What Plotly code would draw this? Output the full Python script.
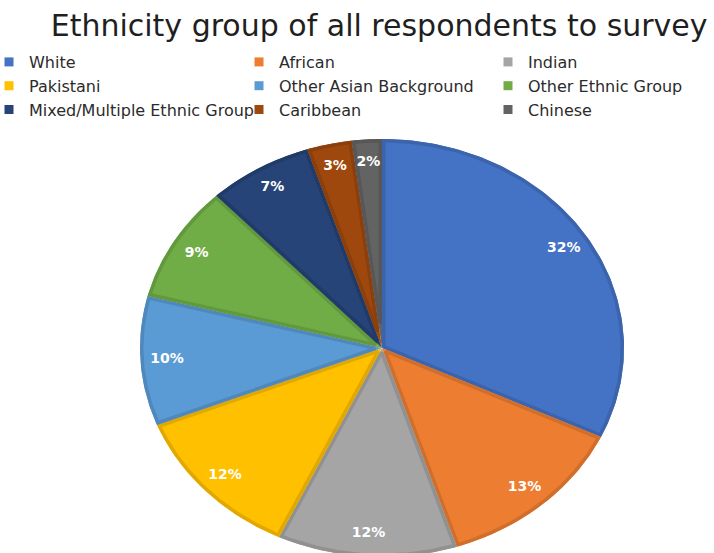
import numpy as np
import plotly.graph_objects as go

# Survey data
groups = [
    "White", "African", "Indian",
    "Pakistani", "Other Asian Background", "Other Ethnic Group",
    "Mixed/Multiple Ethnic Group", "Caribbean", "Chinese",
]
shares = [32, 13, 12, 12, 10, 9, 7, 3, 2]
fill_colors = [
    "#4472C4", "#ED7D31", "#A5A5A5",
    "#FFC000", "#5B9BD5", "#70AD47",
    "#264478", "#9E480E", "#636363",
]
title_text = "Ethnicity group of all respondents to survey"

# Canvas and pie geometry (pixels)
W, H = 714, 553
TOP = 128                  # plot area starts below the legend
CX, CY = 382, 348          # pie centre, measured from left / top of canvas
RX, RY = 242, 209          # horizontal / vertical radius
BORDER = 3.5               # width of each slice's inner outline
LABEL_R = 0.89             # label distance as a fraction of the radius
LEGEND_COLS = 3
LEGEND_TEXT_X = [29, 279, 528]   # left edge of legend text in each column
LEGEND_TOP = 45


def darker(hex_color, k=0.88):
    r, g, b = (int(hex_color[i:i + 2], 16) for i in (1, 3, 5))
    return "#%02x%02x%02x" % (int(r * k), int(g * k), int(b * k))


def unit(v):
    return v / np.hypot(*v)


def ellipse_hit(p, u, a, b):
    """Distance along direction u from p to the ellipse with semi-axes a, b."""
    qa = (u[0] / a) ** 2 + (u[1] / b) ** 2
    qb = 2 * (p[0] * u[0] / a ** 2 + p[1] * u[1] / b ** 2)
    qc = (p[0] / a) ** 2 + (p[1] / b) ** 2 - 1
    return (-qb + np.sqrt(qb * qb - 4 * qa * qc)) / (2 * qa)


def slice_fill(a0, a1, n=120):
    t = np.linspace(a0, a1, n)
    xs = np.concatenate([[0], RX * np.sin(t), [0]])
    ys = np.concatenate([[0], RY * np.cos(t), [0]])
    return xs, ys


def slice_outline(a0, a1, d, n=120):
    """Outline path inset by d pixels so each slice keeps its own border."""
    u1 = unit(np.array([RX * np.sin(a0), RY * np.cos(a0)]))
    u2 = unit(np.array([RX * np.sin(a1), RY * np.cos(a1)]))
    n1 = np.array([u1[1], -u1[0]])
    n2 = np.array([-u2[1], u2[0]])
    apex = np.linalg.solve(np.array([n1, n2]), np.array([d, d]))
    A, B = RX - d, RY - d
    q0 = apex + ellipse_hit(apex, u1, A, B) * u1
    q1 = apex + ellipse_hit(apex, u2, A, B) * u2
    p0 = np.arctan2(q0[0] / A, q0[1] / B)
    p1 = np.arctan2(q1[0] / A, q1[1] / B)
    while p1 < p0:
        p1 += 2 * np.pi
    t = np.linspace(p0, p1, n)
    xs = np.concatenate([[apex[0]], A * np.sin(t), [apex[0]]])
    ys = np.concatenate([[apex[1]], B * np.cos(t), [apex[1]]])
    return xs, ys


total = float(sum(shares))
bounds = np.concatenate([[0], np.cumsum(shares)]) / total * 2 * np.pi

fig = go.Figure()

# Slices, clockwise from twelve o'clock
for i, (g, v, c) in enumerate(zip(groups, shares, fill_colors)):
    a0, a1 = bounds[i], bounds[i + 1]
    xs, ys = slice_fill(a0, a1)
    fig.add_trace(go.Scatter(
        x=xs, y=ys, mode="lines", fill="toself", fillcolor=c,
        line=dict(width=0, color=c), hoverinfo="skip", showlegend=False,
    ))
    ox, oy = slice_outline(a0, a1, BORDER / 2)
    fig.add_trace(go.Scatter(
        x=ox, y=oy, mode="lines",
        line=dict(width=BORDER, color=darker(c)),
        hoverinfo="skip", showlegend=False,
    ))

# Percentage labels
mids = (bounds[:-1] + bounds[1:]) / 2
fig.add_trace(go.Scatter(
    x=LABEL_R * RX * np.sin(mids),
    y=LABEL_R * RY * np.cos(mids),
    mode="text",
    text=[f"{v}%" for v in shares],
    textposition="middle center",
    textfont=dict(family="DejaVu Sans", size=14, color="white", weight="bold"),
    hoverinfo="skip", showlegend=False,
))

# Legend entries, laid out row by row across three column legends
legend_names = ["legend", "legend2", "legend3"]
for i, (g, c) in enumerate(zip(groups, fill_colors)):
    fig.add_trace(go.Scatter(
        x=[None], y=[None], mode="markers", name=g,
        legend=legend_names[i % LEGEND_COLS], legendgroup=g,
        marker=dict(symbol="square", size=9, color=c),
    ))

plot_h = H - TOP
legend_style = dict(
    orientation="v", xanchor="left", yanchor="top",
    y=1 + (TOP - LEGEND_TOP) / plot_h,
    font=dict(family="DejaVu Sans", size=16, color="#2b2b2b"),
    bgcolor="rgba(0,0,0,0)", traceorder="normal", tracegroupgap=2,
)
legend_layout = {
    name: dict(legend_style, x=(tx - 40) / W)
    for name, tx in zip(legend_names, LEGEND_TEXT_X)
}

fig.update_layout(
    width=W, height=H,
    margin=dict(l=0, r=0, t=TOP, b=0, autoexpand=False),
    paper_bgcolor="white", plot_bgcolor="white",
    title=dict(
        text=title_text, x=0.531, xanchor="center", xref="paper",
        y=1 - 25 / H, yanchor="middle", yref="container",
        font=dict(family="DejaVu Sans", size=30, color="#1f1f1f"),
    ),
    xaxis=dict(range=[-CX, W - CX], visible=False, fixedrange=True),
    yaxis=dict(range=[-(H - CY), CY - TOP], visible=False, fixedrange=True),
    showlegend=True,
    **legend_layout,
)

fig.write_html("out.html")
